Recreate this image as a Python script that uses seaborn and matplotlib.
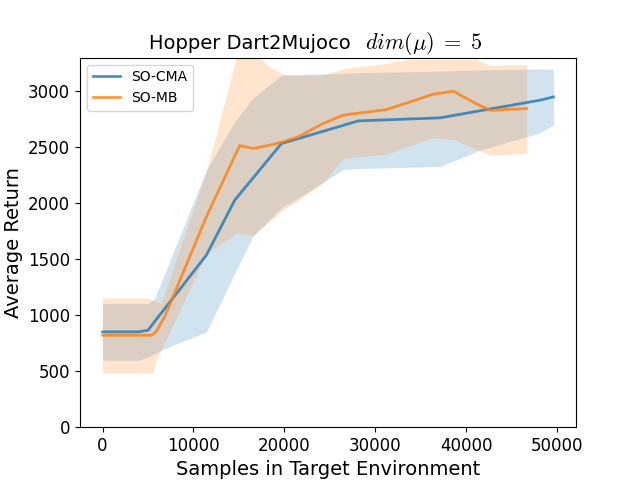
import matplotlib
matplotlib.use("Agg")
import matplotlib.pyplot as plt
import seaborn as sns
import numpy as np
import pandas as pd

plt.rcParams['mathtext.fontset'] = 'cm'

# SO-CMA
cma_x = [0, 4000, 5000, 5700, 6460, 11420, 14540, 16500, 19680, 21700, 26470, 28120, 37110, 41500, 48130, 49600]
cma_mean = [851, 851, 866, 940, 1019, 1536, 2027, 2220, 2533, 2581, 2695, 2735, 2762, 2825, 2920, 2949]
cma_low = [598, 598, 628, 655, 688, 851, 1372, 1700, 1960, 2056, 2300, 2310, 2327, 2473, 2628, 2700]
cma_high = [1104, 1104, 1104, 1149, 1296, 2295, 2726, 2935, 3143, 3150, 3160, 3165, 3180, 3190, 3200, 3195]

# SO-MB
mb_x = [0, 4900, 5360, 5540, 5910, 6460, 6830, 11420, 14720, 15090, 16560, 18390, 19860, 21510, 24260, 26470, 31240, 33800, 36380, 38580, 41150, 42620, 46660]
mb_mean = [821, 821, 821, 828, 855, 933, 985, 1878, 2452, 2515, 2488, 2518, 2548, 2592, 2711, 2786, 2836, 2904, 2973, 3000, 2886, 2830, 2845]
mb_low = [482, 482, 482, 482, 598, 688, 752, 1551, 1729, 1727, 1714, 1838, 1938, 2023, 2181, 2399, 2438, 2512, 2586, 2568, 2480, 2429, 2444]
mb_high = [1155, 1155, 1140, 1135, 1120, 1110, 1197, 2280, 3300, 3360, 3340, 3220, 3150, 3140, 3145, 3200, 3250, 3283, 3283, 3283, 3283, 3232, 3240]

labels = ["SO-CMA", "SO-MB"]
colors = ["#1f77b4", "#ff7f0e"]
title_text = "Hopper Dart2Mujoco"
title_math = r"$dim(\mu)\;=\;5$"

df = pd.concat([
    pd.DataFrame({"x": cma_x, "y": cma_mean, "method": labels[0]}),
    pd.DataFrame({"x": mb_x, "y": mb_mean, "method": labels[1]}),
])

fig, ax = plt.subplots(figsize=(6.4, 4.8), dpi=100)

ax.fill_between(cma_x, cma_low, cma_high, color=colors[0], alpha=0.2, linewidth=0)
ax.fill_between(mb_x, mb_low, mb_high, color=colors[1], alpha=0.2, linewidth=0)

sns.lineplot(data=df, x="x", y="y", hue="method", palette=colors, ax=ax,
             linewidth=2, alpha=0.8, estimator=None, sort=False)

ax.set_ylim(0, 3300)
ax.set_xlabel("Samples in Target Environment", fontsize=14)
ax.set_ylabel("Average Return", fontsize=14)
fig.text(351 / 640, 1 - 48.7 / 480, title_text, fontsize=14, ha="right", va="baseline")
fig.text(365 / 640, 1 - 48.7 / 480, title_math, fontsize=16, ha="left", va="baseline")
ax.tick_params(labelsize=12)
ax.set_yticks([0, 500, 1000, 1500, 2000, 2500, 3000])
ax.legend(loc="upper left", fontsize=10)

fig.savefig("out.png", dpi=100)
